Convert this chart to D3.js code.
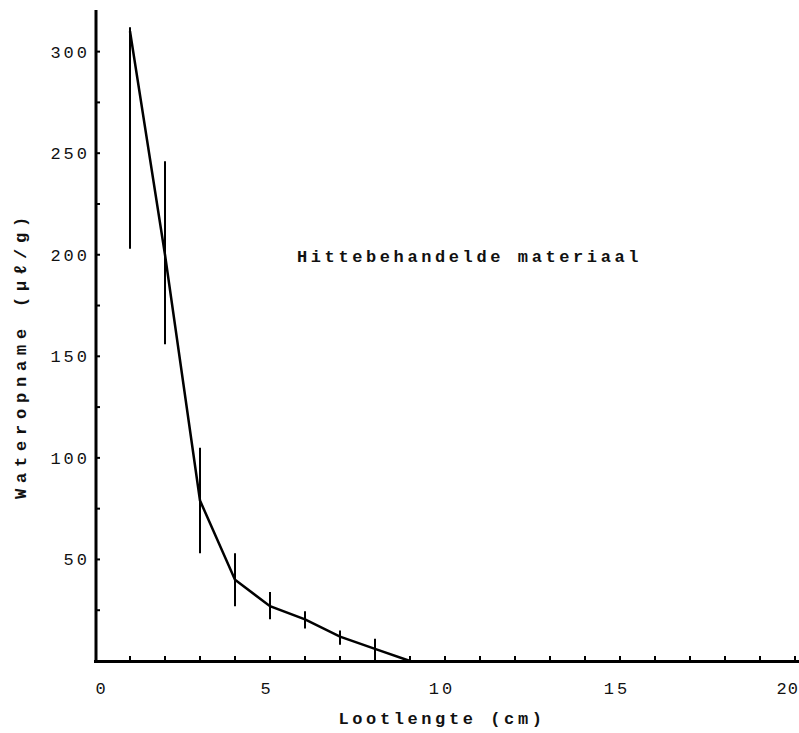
<!DOCTYPE html>
<html>
<head>
<meta charset="utf-8">
<script src="https://cdn.jsdelivr.net/npm/d3@7"></script>
<style>
  body { margin: 0; background: #fff; }
  text { font-family: "Liberation Mono", "DejaVu Sans Mono", monospace; fill: #111; }
</style>
</head>
<body>
<div id="chart"></div>
<script>
// lengths (cm) and water uptake (ul/g) with error bar ranges
const lengths = [1, 2, 3, 4, 5, 6, 7, 8, 9];
const uptake  = [310, 200, 79, 40, 27, 20.5, 12, 6, 0];
const lowErr  = [203, 156, 53, 27, 20.5, 16, 8, 0.5, null];
const highErr = [312, 246, 105, 53, 34, 24.5, 15, 11, null];
const xTicks = [0, 5, 10, 15, 20];
const yTicks = [50, 100, 150, 200, 250, 300];

(function() {
    const width = 799, height = 733;
    const svg = d3.select("#chart").append("svg")
        .attr("width", width).attr("height", height);

    const x = d3.scaleLinear().domain([0, 20]).range([95, 795]);
    const y = d3.scaleLinear().domain([0, 320]).range([661, 11]);

    // axes lines
    svg.append("line")
        .attr("x1", 96).attr("x2", 96).attr("y1", 10).attr("y2", 662)
        .attr("stroke", "#000").attr("stroke-width", 3);
    svg.append("line")
        .attr("x1", 94).attr("x2", 799).attr("y1", 661.5).attr("y2", 661.5)
        .attr("stroke", "#000").attr("stroke-width", 3);

    // y ticks every 25, labels every 50
    svg.append("g").selectAll("line")
        .data(d3.range(25, 325, 25))
        .enter().append("line")
        .attr("x1", 96).attr("x2", 100)
        .attr("y1", d => y(d)).attr("y2", d => y(d))
        .attr("stroke", "#000").attr("stroke-width", 2);

    svg.append("g").selectAll("text")
        .data(yTicks)
        .enter().append("text")
        .attr("x", 90).attr("y", d => y(d))
        .attr("dy", "0.35em")
        .attr("text-anchor", "end")
        .style("font-size", "17px")
        .style("letter-spacing", "3px")
        .text(d => d);

    // x ticks every 1
    svg.append("g").selectAll("line")
        .data(d3.range(1, 21))
        .enter().append("line")
        .attr("x1", d => x(d)).attr("x2", d => x(d))
        .attr("y1", 661).attr("y2", 656)
        .attr("stroke", "#000").attr("stroke-width", 2);

    svg.append("g").selectAll("text")
        .data(xTicks)
        .enter().append("text")
        .attr("x", d => d === 0 ? x(d) + 7 : (d === 20 ? 799 : x(d) - 3))
        .attr("y", 694)
        .attr("text-anchor", d => d === 20 ? "end" : "middle")
        .style("font-size", "17px")
        .style("letter-spacing", d => d === 20 ? "1px" : "3px")
        .text(d => d);

    // axis labels
    svg.append("text")
        .attr("x", 442).attr("y", 724)
        .attr("text-anchor", "middle")
        .style("font-size", "17px")
        .style("font-weight", "bold")
        .style("letter-spacing", "3.6px")
        .text("Lootlengte (cm)");

    svg.append("text")
        .attr("transform", "translate(26,355) rotate(-90)")
        .attr("text-anchor", "middle")
        .style("font-size", "17px")
        .style("font-weight", "bold")
        .style("letter-spacing", "5.8px")
        .text("Wateropname (\u03bc\u2113/g)");

    // annotation
    svg.append("text")
        .attr("x", 297).attr("y", 262)
        .style("font-size", "17px")
        .style("font-weight", "bold")
        .style("letter-spacing", "3.6px")
        .text("Hittebehandelde materiaal");

    const pts = lengths.map((d, i) => ({x: d, y: uptake[i], lo: lowErr[i], hi: highErr[i]}));

    // error bars
    svg.append("g").selectAll("line")
        .data(pts.filter(d => d.lo !== null))
        .enter().append("line")
        .attr("x1", d => x(d.x)).attr("x2", d => x(d.x))
        .attr("y1", d => y(d.lo)).attr("y2", d => y(d.hi))
        .attr("stroke", "#000").attr("stroke-width", 2);

    // mean line
    svg.append("path")
        .datum(pts)
        .attr("fill", "none")
        .attr("stroke", "#000")
        .attr("stroke-width", 2.5)
        .attr("d", d3.line().x(d => x(d.x)).y(d => y(d.y)));
})();
</script>
</body>
</html>
